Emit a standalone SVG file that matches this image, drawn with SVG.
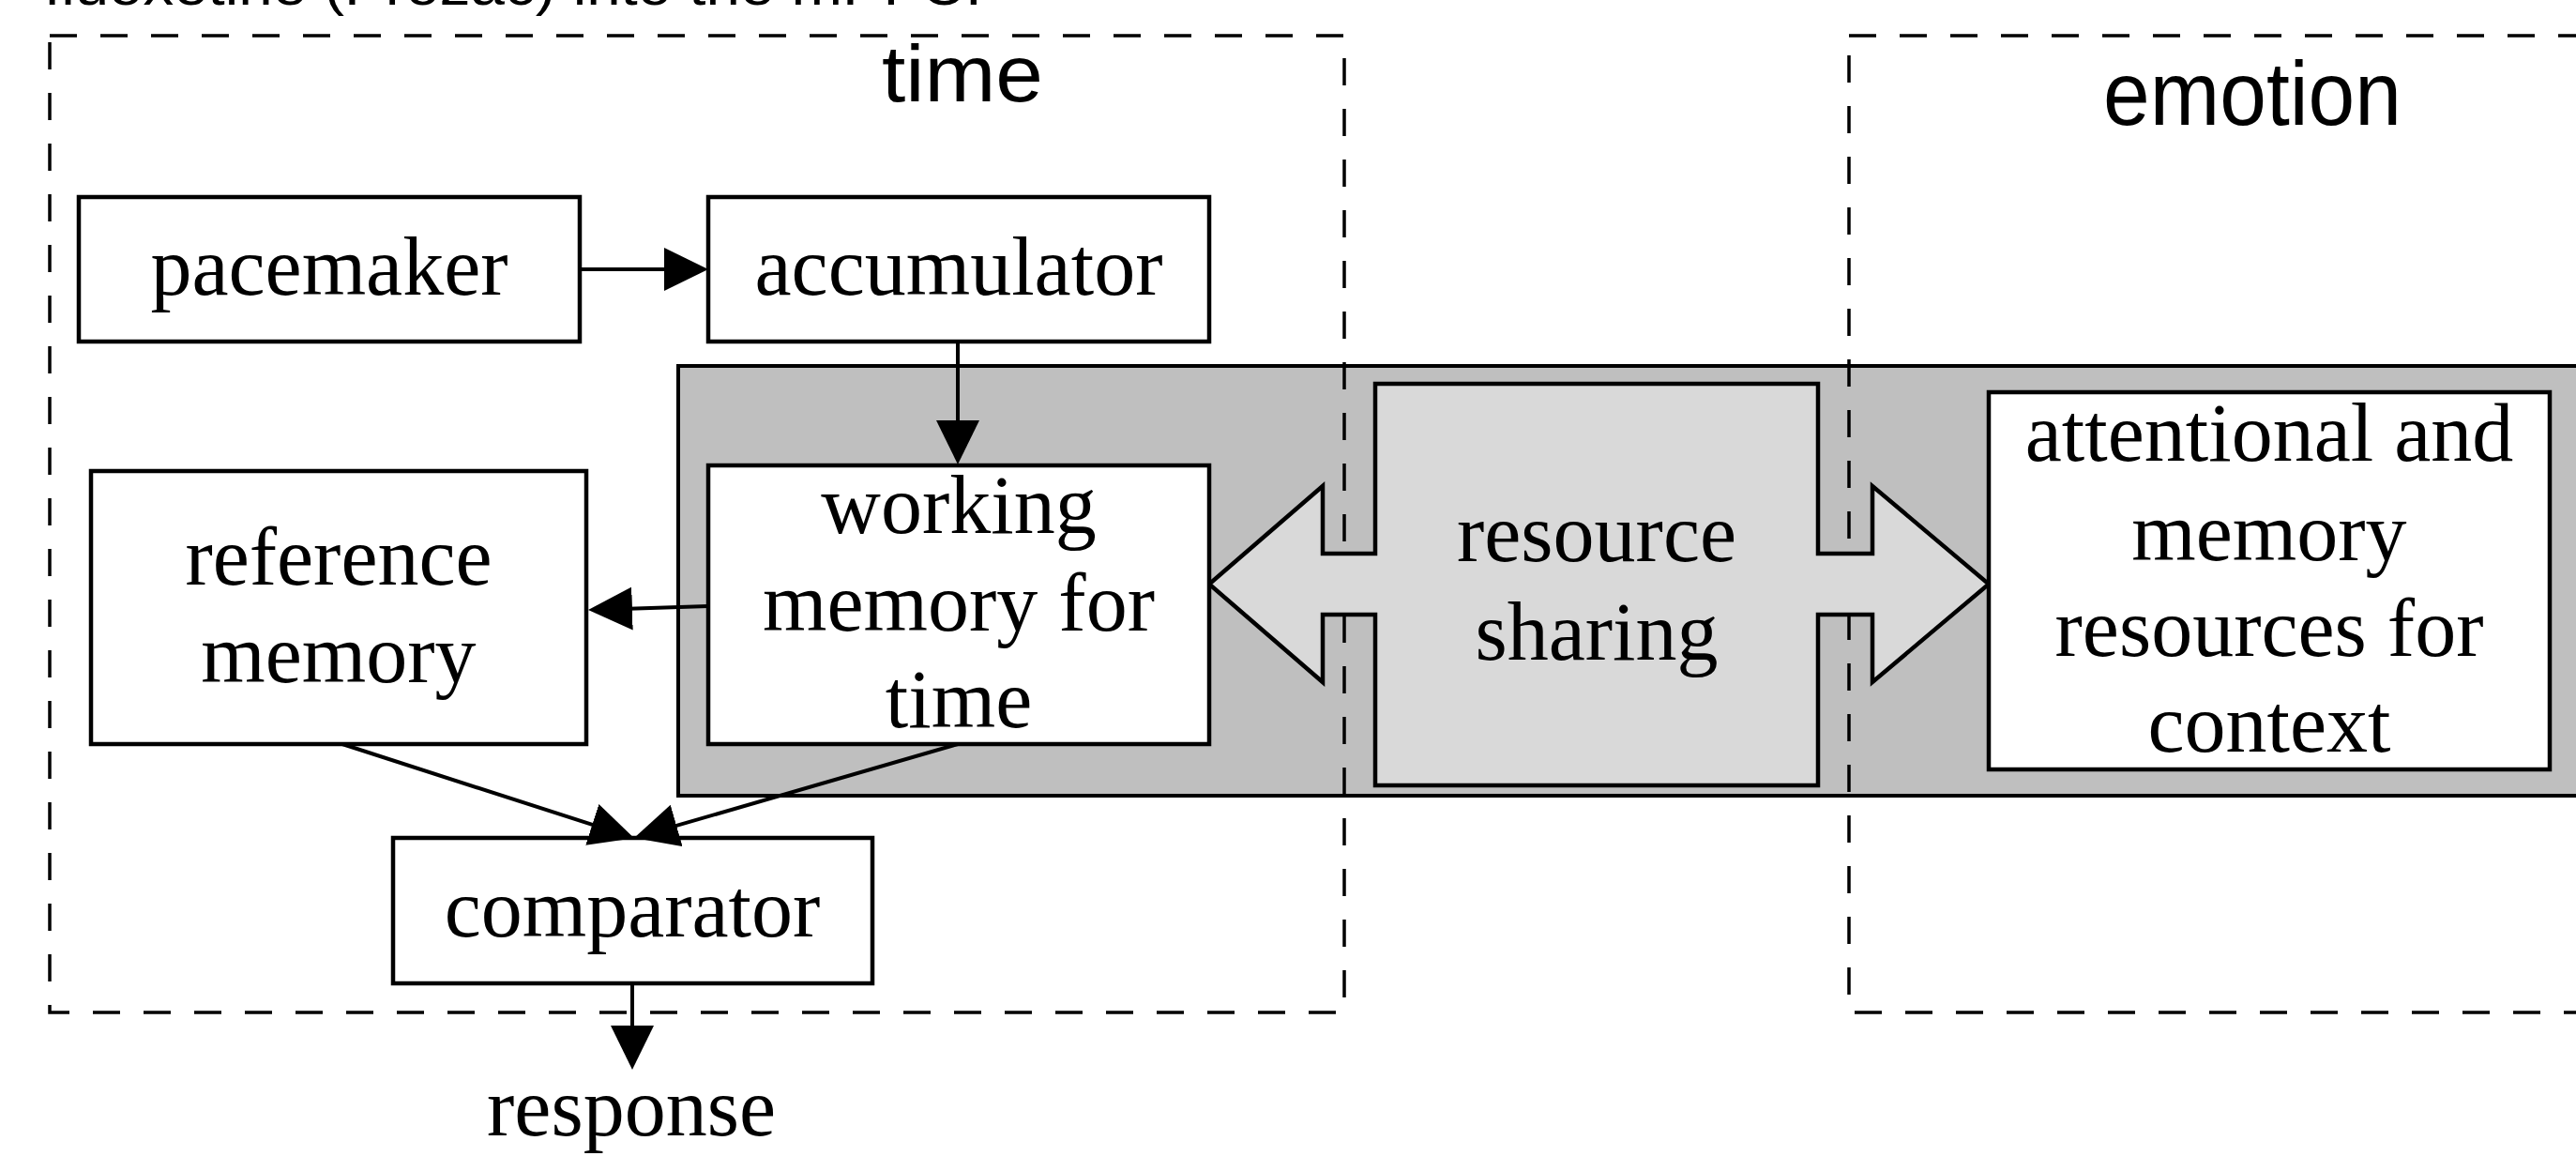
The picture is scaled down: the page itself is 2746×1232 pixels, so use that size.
<svg xmlns="http://www.w3.org/2000/svg" width="2746" height="1232" viewBox="0 0 2746 1232">
<style>
.box{fill:#ffffff;stroke:#000000;stroke-width:4.5}
.lbl{font-family:"Liberation Serif","Times New Roman",serif;font-size:88px;fill:#000000;text-anchor:middle}
.sans{font-family:"Liberation Sans",Arial,sans-serif;fill:#000000}
.dash{fill:none;stroke:#000000;stroke-width:3.5;stroke-dasharray:29 25}
.conn{fill:none;stroke:#000000;stroke-width:4}
</style>
<defs>
<marker id="arrow" viewBox="0 0 47 46" refX="27" refY="23" markerWidth="47" markerHeight="46" markerUnits="userSpaceOnUse" orient="auto">
<path d="M0,0 L47,23 L0,46 Z" fill="#000000"/>
</marker>
</defs>
<rect width="2746" height="1232" fill="#ffffff"/>
<text class="sans" x="47" y="5" font-size="60" textLength="1000" lengthAdjust="spacingAndGlyphs">fluoxetine (Prozac) into the mPFC.</text>
<g id="shared-band">
<rect x="723" y="390" width="2060" height="458" fill="#bfbfbf" stroke="#000000" stroke-width="4"/>
</g>
<g id="time-group">
<rect class="dash" x="53" y="38" width="1380" height="1041"/>
<text class="sans" x="940" y="108" font-size="86" textLength="172" lengthAdjust="spacingAndGlyphs">time</text>
</g>
<g id="emotion-group">
<rect class="dash" x="1971" y="38" width="820" height="1041"/>
<text class="sans" x="2242" y="133" font-size="96" textLength="318" lengthAdjust="spacingAndGlyphs">emotion</text>
</g>
<g id="resource-sharing">
<path d="M1466,409 H1938 V590 H1996 V518 L2120,622.5 L1996,727 V655 H1938 V837 H1466 V655 H1410 V727 L1289,622.5 L1410,518 V590 H1466 Z" fill="#d9d9d9" stroke="#000000" stroke-width="4.5" stroke-linejoin="miter"/>
<text class="lbl" x="1702" y="598">resource</text>
<text class="lbl" x="1702" y="703">sharing</text>
</g>
<g id="pacemaker">
<rect class="box" x="84" y="210" width="534" height="154"/>
<text class="lbl" x="351" y="314">pacemaker</text>
</g>
<g id="accumulator">
<rect class="box" x="755" y="210" width="534" height="154"/>
<text class="lbl" x="1022" y="314">accumulator</text>
</g>
<g id="working-memory">
<rect class="box" x="755" y="496" width="534" height="297"/>
<text class="lbl" x="1022" y="568">working</text>
<text class="lbl" x="1022" y="672">memory for</text>
<text class="lbl" x="1022" y="775">time</text>
</g>
<g id="reference-memory">
<rect class="box" x="97" y="502" width="528" height="291"/>
<text class="lbl" x="361" y="623">reference</text>
<text class="lbl" x="361" y="727">memory</text>
</g>
<g id="attentional-resources">
<rect class="box" x="2120" y="418" width="598" height="402"/>
<text class="lbl" x="2419" y="491">attentional and</text>
<text class="lbl" x="2419" y="597">memory</text>
<text class="lbl" x="2419" y="699">resources for</text>
<text class="lbl" x="2419" y="801">context</text>
</g>
<g id="comparator">
<rect class="box" x="419" y="893" width="511" height="155"/>
<text class="lbl" x="674" y="998">comparator</text>
</g>
<g id="response">
<text class="lbl" x="673" y="1210">response</text>
</g>
<g id="connectors">
<line class="conn" x1="618" y1="287" x2="735" y2="287" marker-end="url(#arrow)"/>
<line class="conn" x1="1021" y1="365" x2="1021" y2="475" marker-end="url(#arrow)"/>
<line class="conn" x1="755" y1="646" x2="647" y2="649.4" marker-end="url(#arrow)"/>
<line class="conn" x1="365" y1="793" x2="657" y2="887.2" marker-end="url(#arrow)"/>
<line class="conn" x1="1021" y1="793" x2="695.2" y2="887.4" marker-end="url(#arrow)"/>
<line class="conn" x1="674" y1="1048" x2="674" y2="1120" marker-end="url(#arrow)"/>
</g>
</svg>
